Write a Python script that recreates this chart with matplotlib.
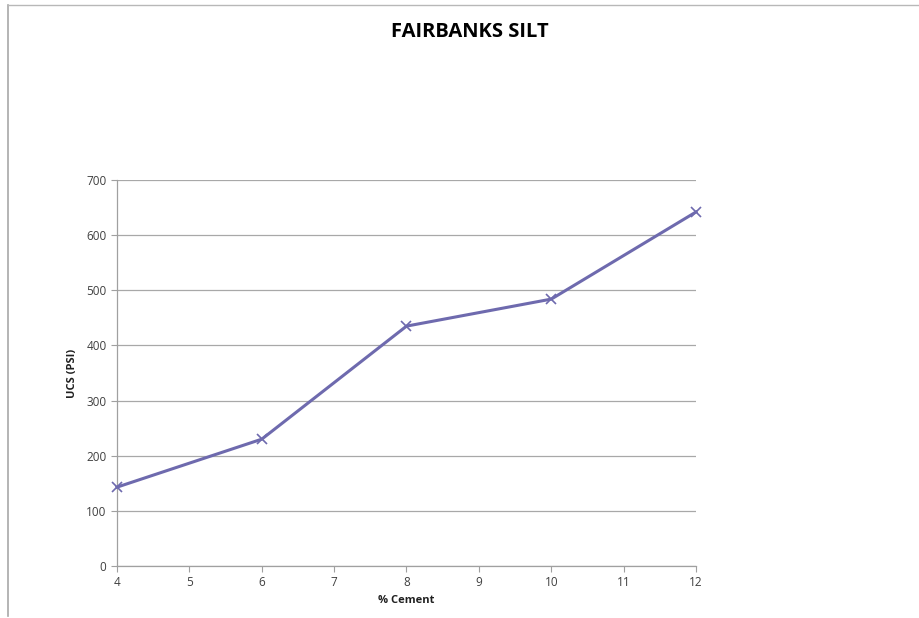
import matplotlib
matplotlib.use("Agg")
import matplotlib.pyplot as plt
from matplotlib.lines import Line2D

cement = [4, 6, 8, 10, 12]
ucs = [143, 230, 435, 484, 642]
xticks = [4, 5, 6, 7, 8, 9, 10, 11, 12]
yticks = [0, 100, 200, 300, 400, 500, 600, 700]

plt.rcParams['font.family'] = ['Open Sans', 'DejaVu Sans']

fig = plt.figure(figsize=(9.2, 6.18), dpi=100)
W, H = 920, 618
ax = fig.add_axes([117 / W, 1 - 566 / H, (696 - 117) / W, (566 - 180) / H])

ax.plot(cement, ucs, color='#6E6AAE', lw=2.2, marker='x', markersize=7,
        markeredgewidth=1.2, zorder=3, clip_on=False)

ax.set_xlim(4, 12)
ax.set_ylim(0, 700)
ax.set_xticks(xticks)
ax.set_yticks(yticks)
ax.grid(axis='y', color='#A8A8A8', lw=0.9)
ax.set_axisbelow(True)
for s in ['top', 'right']:
    ax.spines[s].set_visible(False)
for s in ['left', 'bottom']:
    ax.spines[s].set_color('#A0A0A0')
    ax.spines[s].set_linewidth(0.9)
ax.tick_params(colors='#A0A0A0', labelcolor='#404040', labelsize=8.5,
               length=4, direction='out')
ax.set_xlabel('% Cement', fontsize=8, fontweight='bold', color='#202020', labelpad=4)
ax.set_ylabel('UCS (PSI)', fontsize=8, fontweight='bold', color='#202020', labelpad=6)

fig.text(470 / W, 1 - 32 / H, 'FAIRBANKS SILT', ha='center', va='center',
         fontsize=14.5, fontweight='bold', color='#000000')

# outer frame
fig.add_artist(Line2D([8 / W, 8 / W], [1 - 5 / H, 1 - 616 / H], transform=fig.transFigure,
                      color='#A8A8A8', lw=1.2))
fig.add_artist(Line2D([8 / W, 1], [1 - 5 / H, 1 - 5 / H], transform=fig.transFigure,
                      color='#B8B8B8', lw=1.0))

fig.savefig('out.png', dpi=100)
